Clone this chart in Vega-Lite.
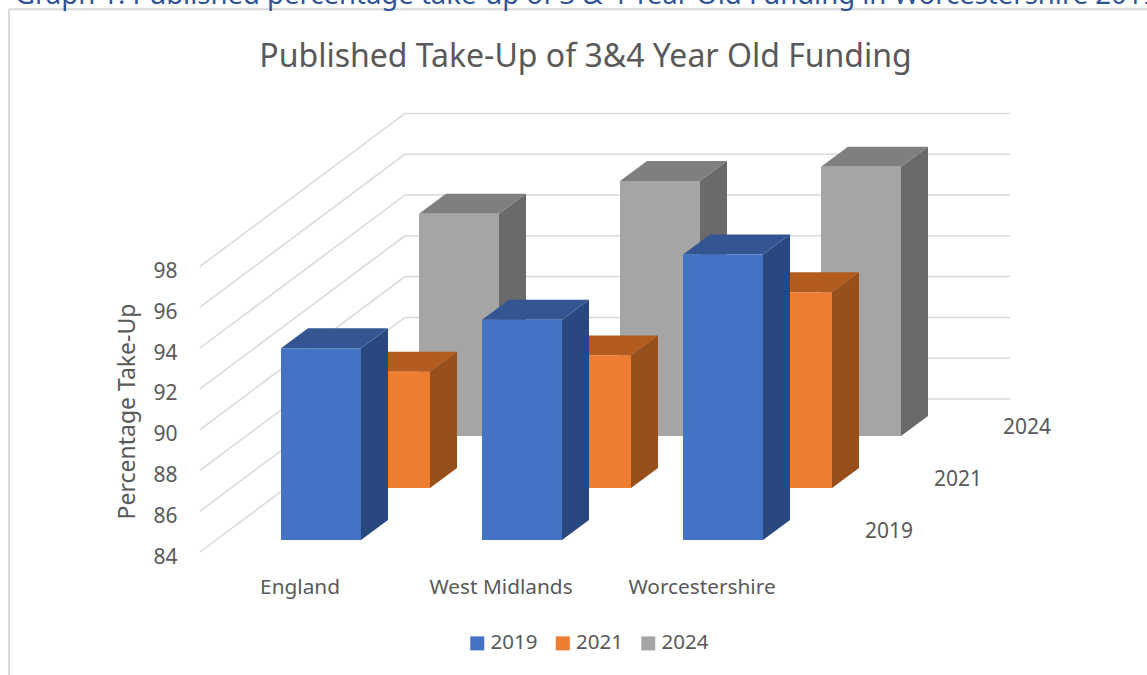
{
"$schema":"https://vega.github.io/schema/vega-lite/v6.json",
"width":1147,"height":675,"padding":0,"autosize":"none",
"background":"white",
"view":{"stroke":null},
"config":{"font":"Noto Sans","text":{"font":"Noto Sans"}},
"resolve":{"axis":{"y":"independent"}},
"title":{"text":"Published Take-Up of 3&4 Year Old Funding","anchor":"middle","orient":"top","offset":-66,"dx":12,"dy":51,"baseline":"alphabetic","fontSize":32,"fontWeight":"normal","font":"Noto Sans","color":"#595959"},
"datasets":{
"bars":[
{"region":"England","year":"2019","value":93.4},
{"region":"West Midlands","year":"2019","value":94.8},
{"region":"Worcestershire","year":"2019","value":98.0},
{"region":"England","year":"2021","value":89.7},
{"region":"West Midlands","year":"2021","value":90.5},
{"region":"Worcestershire","year":"2021","value":93.6},
{"region":"England","year":"2024","value":94.9},
{"region":"West Midlands","year":"2024","value":96.5},
{"region":"Worcestershire","year":"2024","value":97.2}],
"ticks":[{"tick":84},{"tick":86},{"tick":88},{"tick":90},{"tick":92},{"tick":94},{"tick":96},{"tick":98}],
"regions":[{"region":"England"},{"region":"West Midlands"},{"region":"Worcestershire"}],
"years":[{"year":"2019"},{"year":"2021"},{"year":"2024"}]
},
"layer":[
{"data":{"name":"ticks"},"transform":[{"calculate":"datum.tick+7.5","as":"back"},{"calculate":"200","as":"xa"},{"calculate":"405","as":"xb"}],
 "mark":{"type":"rule","color":"#d9d9d9","strokeWidth":1.5},
 "encoding":{"x":{"field":"xb","type":"quantitative","scale":{"domain":[0,1147]},"axis":null},"x2":{"field":"xa"},
  "y":{"field":"back","type":"quantitative","scale":{"domain":[77.971,111.059]},"axis":null},
  "y2":{"field":"tick"}}},
{"data":{"name":"ticks"},"transform":[{"calculate":"datum.tick+7.5","as":"back"},{"calculate":"405","as":"xb"},{"calculate":"1010","as":"xc"}],
 "mark":{"type":"rule","color":"#d9d9d9","strokeWidth":1.5},
 "encoding":{"x":{"field":"xb","type":"quantitative","scale":{"domain":[0,1147]},"axis":null},"x2":{"field":"xc"},
  "y":{"field":"back","type":"quantitative","scale":{"domain":[77.971,111.059]},"axis":null}}},
{"data":{"name":"ticks"},"mark":{"type":"point","opacity":0},
 "encoding":{"x":{"datum":200,"type":"quantitative","scale":{"domain":[0,1147]},"axis":null},
  "y":{"field":"tick","type":"quantitative","scale":{"domain":[77.971,111.059]},
   "axis":{"orient":"left","values":[84,86,88,90,92,94,96,98],"offset":-177,"domain":false,"ticks":false,"grid":false,"labelPadding":0,"labelOffset":5,"labelFontSize":21,"labelColor":"#595959","labelFont":"Noto Sans","title":"Percentage Take-Up","titleFontSize":23,"titleFontWeight":"normal","titleFont":"Noto Sans","titleColor":"#595959","titleX":-50,"titleY":411,"titleAngle":-90,"titleBaseline":"middle","titleAlign":"center"}}}},
{"data":{"values":[{"edge":"frame"}]},"mark":{"type":"rule","color":"#d9d9d9","strokeWidth":2},
 "encoding":{"x":{"datum":9,"type":"quantitative","scale":{"domain":[0,1147]},"axis":null},"y":{"datum":110.6,"type":"quantitative","scale":{"domain":[77.971,111.059]},"axis":null},"y2":{"datum":77.971}}},
{"data":{"values":[{"edge":"frame"}]},"mark":{"type":"rule","color":"#d9d9d9","strokeWidth":2},
 "encoding":{"x":{"datum":9,"type":"quantitative","scale":{"domain":[0,1147]},"axis":null},"x2":{"datum":1147},"y":{"datum":110.6,"type":"quantitative","scale":{"domain":[77.971,111.059]},"axis":null}}},
{"data":{"values":[{"caption":"Graph 1: Published percentage take-up of 3 & 4 Year Old Funding in Worcestershire 2019"}]},
 "mark":{"type":"text","align":"left","baseline":"alphabetic","fontSize":27.5,"color":"#2f5496"},
 "encoding":{"text":{"field":"caption"},"x":{"datum":15,"type":"quantitative","scale":{"domain":[0,1147]},"axis":null},"y":{"datum":110.85,"type":"quantitative","scale":{"domain":[77.971,111.059]},"axis":null}}},
{"data":{"name":"bars"},
 "transform":[
  {"calculate":"indexof(['England','West Midlands','Worcestershire'],datum.region)","as":"i"},
  {"calculate":"indexof(['2019','2021','2024'],datum.year)","as":"d"},
  {"calculate":"281+201*datum.i+69*datum.d","as":"x0"},
  {"calculate":"datum.x0+80","as":"x1"},
  {"calculate":"84+(12+52*datum.d)/20.4","as":"base"},
  {"calculate":"datum.base+datum.value-84","as":"top"},
  {"calculate":"[0,1]","as":"corner"},
  {"flatten":["corner"]},
  {"calculate":"datum.x1+27*datum.corner","as":"sx"},
  {"calculate":"datum.top+datum.corner*20/20.4","as":"sy"},
  {"calculate":"datum.base+datum.corner*20/20.4","as":"sy2"},
  {"calculate":"datum.x0+27*datum.corner","as":"tx"}
 ],
 "layer":[
 {"transform":[{"filter":"datum.year==='2024'"}],"mark":{"type":"area","color":"#6a6a6a"},"encoding":{"detail":{"field":"region"},"x":{"field":"sx","type":"quantitative","scale":{"domain":[0,1147]},"axis":null},"y":{"field":"sy","type":"quantitative","scale":{"domain":[77.971,111.059]},"axis":null},"y2":{"field":"sy2"}}},
 {"transform":[{"filter":"datum.year==='2024'"}],"mark":{"type":"area","orient":"horizontal","color":"#7f7f7f"},"encoding":{"detail":{"field":"region"},"x":{"field":"tx","type":"quantitative","scale":{"domain":[0,1147]},"axis":null},"x2":{"field":"sx"},"y":{"field":"sy","type":"quantitative","scale":{"domain":[77.971,111.059]},"axis":null}}},
 {"transform":[{"filter":"datum.year==='2024' && datum.corner===0"}],"mark":{"type":"rect"},"encoding":{"color":{"field":"year","type":"nominal","scale":{"domain":["2019","2021","2024"],"range":["#4472c4","#ed7d31","#a5a5a5"]},"legend":{"title":null,"orient":"none","legendX":467,"legendY":633,"direction":"horizontal","symbolType":"square","symbolSize":196,"symbolStrokeWidth":0,"labelFontSize":20.5,"labelColor":"#595959","labelFont":"Noto Sans","columnPadding":14.5,"labelOffset":3}},"x":{"field":"x0","type":"quantitative","scale":{"domain":[0,1147]},"axis":null},"x2":{"field":"x1"},"y":{"field":"base","type":"quantitative","scale":{"domain":[77.971,111.059]},"axis":null},"y2":{"field":"top"}}},
 {"transform":[{"filter":"datum.year==='2021'"}],"mark":{"type":"area","color":"#97501c"},"encoding":{"detail":{"field":"region"},"x":{"field":"sx","type":"quantitative","scale":{"domain":[0,1147]},"axis":null},"y":{"field":"sy","type":"quantitative","scale":{"domain":[77.971,111.059]},"axis":null},"y2":{"field":"sy2"}}},
 {"transform":[{"filter":"datum.year==='2021'"}],"mark":{"type":"area","orient":"horizontal","color":"#b25c1f"},"encoding":{"detail":{"field":"region"},"x":{"field":"tx","type":"quantitative","scale":{"domain":[0,1147]},"axis":null},"x2":{"field":"sx"},"y":{"field":"sy","type":"quantitative","scale":{"domain":[77.971,111.059]},"axis":null}}},
 {"transform":[{"filter":"datum.year==='2021' && datum.corner===0"}],"mark":{"type":"rect"},"encoding":{"color":{"field":"year","type":"nominal","scale":{"domain":["2019","2021","2024"],"range":["#4472c4","#ed7d31","#a5a5a5"]}},"x":{"field":"x0","type":"quantitative","scale":{"domain":[0,1147]},"axis":null},"x2":{"field":"x1"},"y":{"field":"base","type":"quantitative","scale":{"domain":[77.971,111.059]},"axis":null},"y2":{"field":"top"}}},
 {"transform":[{"filter":"datum.year==='2019'"}],"mark":{"type":"area","color":"#2a4880"},"encoding":{"detail":{"field":"region"},"x":{"field":"sx","type":"quantitative","scale":{"domain":[0,1147]},"axis":null},"y":{"field":"sy","type":"quantitative","scale":{"domain":[77.971,111.059]},"axis":null},"y2":{"field":"sy2"}}},
 {"transform":[{"filter":"datum.year==='2019'"}],"mark":{"type":"area","orient":"horizontal","color":"#335693"},"encoding":{"detail":{"field":"region"},"x":{"field":"tx","type":"quantitative","scale":{"domain":[0,1147]},"axis":null},"x2":{"field":"sx"},"y":{"field":"sy","type":"quantitative","scale":{"domain":[77.971,111.059]},"axis":null}}},
 {"transform":[{"filter":"datum.year==='2019' && datum.corner===0"}],"mark":{"type":"rect"},"encoding":{"color":{"field":"year","type":"nominal","scale":{"domain":["2019","2021","2024"],"range":["#4472c4","#ed7d31","#a5a5a5"]}},"x":{"field":"x0","type":"quantitative","scale":{"domain":[0,1147]},"axis":null},"x2":{"field":"x1"},"y":{"field":"base","type":"quantitative","scale":{"domain":[77.971,111.059]},"axis":null},"y2":{"field":"top"}}}
 ]},
{"data":{"name":"regions"},"transform":[{"calculate":"300+201*indexof(['England','West Midlands','Worcestershire'],datum.region)","as":"lx"},{"calculate":"84-36/20.4","as":"ly"}],
 "mark":{"type":"text","fontSize":20.8,"color":"#595959","baseline":"middle"},
 "encoding":{"text":{"field":"region"},"x":{"field":"lx","type":"quantitative","scale":{"domain":[0,1147]},"axis":null},"y":{"field":"ly","type":"quantitative","scale":{"domain":[77.971,111.059]},"axis":null}}},
{"data":{"name":"years"},"transform":[{"calculate":"indexof(['2019','2021','2024'],datum.year)","as":"d"},{"calculate":"889+69*datum.d","as":"lx"},{"calculate":"84+(20+52*datum.d)/20.4","as":"ly"}],
 "mark":{"type":"text","fontSize":21,"color":"#595959","baseline":"middle"},
 "encoding":{"text":{"field":"year"},"x":{"field":"lx","type":"quantitative","scale":{"domain":[0,1147]},"axis":null},"y":{"field":"ly","type":"quantitative","scale":{"domain":[77.971,111.059]},"axis":null}}}
]
}
